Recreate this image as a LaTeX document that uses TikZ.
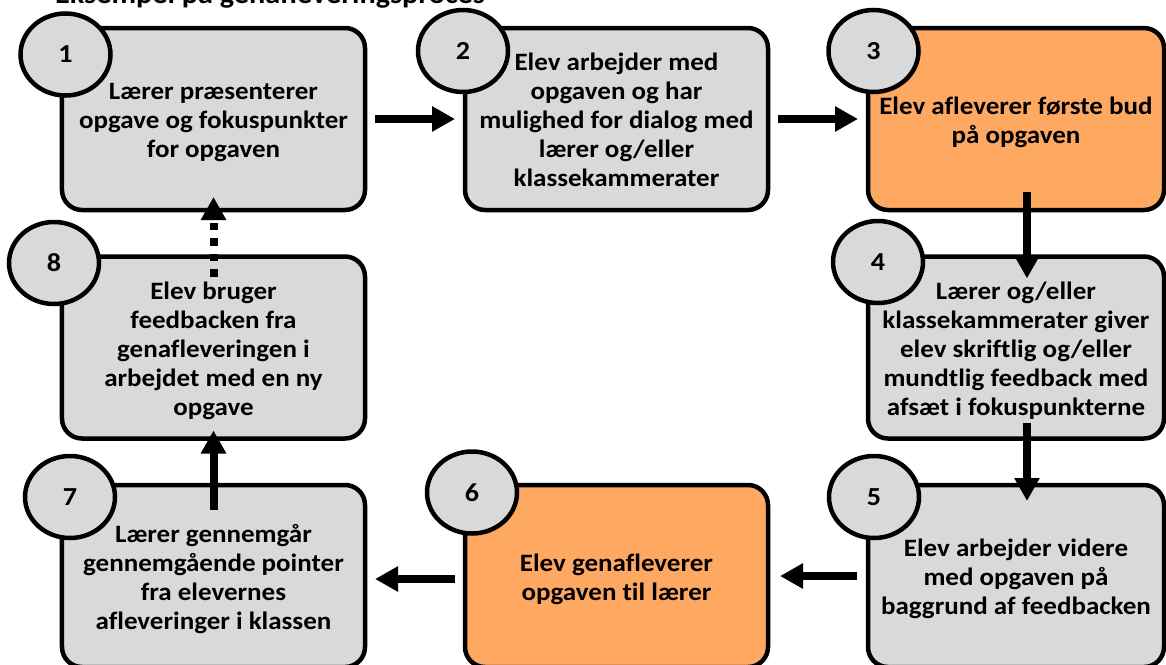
\documentclass[tikz,border=0pt]{standalone}
\usepackage{fontspec}
\setmainfont{Carlito}[FakeStretch=1.08,Ligatures=NoCommon]
\usetikzlibrary{matrix,shapes.geometric,arrows.meta}
\definecolor{boxgray}{HTML}{D9D9D9}
\definecolor{boxorange}{HTML}{FFA862}
\newcommand{\boxtext}[1]{\raisebox{-4pt}[\height][\depth]{\begin{tabular}{@{}c@{}}#1\end{tabular}}}

\begin{document}
\begin{tikzpicture}[x=1pt,y=-1pt,
    stepbox/.style={draw,line width=4.5pt,rounded corners=20pt,fill=boxgray,
        minimum width=303pt,minimum height=182pt,inner sep=0pt,outer sep=0pt,
        font=\fontsize{25}{29}\selectfont\bfseries},
    numcirc/.style={ellipse,draw,line width=4.5pt,fill=boxgray,
        minimum width=90pt,minimum height=82pt,inner sep=0pt,
        font=\fontsize{26}{30}\selectfont\bfseries},
    flowarrow/.style={line width=8pt,-{Triangle[width=24pt,length=23pt]}}
]
    \useasboundingbox (0,0) rectangle (1166,664);
    \clip (0,0) rectangle (1166,664);
    \node[anchor=base west,inner sep=0pt,font=\fontsize{28}{32}\selectfont\bfseries] (title) at (55,3) {Eksempel på genafleveringsproces};
    \matrix(flow)[matrix of nodes,anchor=north west,inner sep=0pt,outer sep=0pt,
        nodes={stepbox,anchor=center},
        column sep=95.5pt,row sep=42pt,
        column 3/.style={nodes={minimum width=296pt}}
    ] at (59.75,25.75) {
        \boxtext{Lærer præsenterer\\opgave og fokuspunkter\\for opgaven}
            & \boxtext{Elev arbejder med\\opgaven og har\\mulighed for dialog med\\lærer og/eller\\klassekammerater}
            & |[fill=boxorange]| \boxtext{Elev afleverer første bud\\på opgaven} \\
        \boxtext{Elev bruger\\feedbacken fra\\genafleveringen i\\arbejdet med en ny\\opgave}
            &
            & \boxtext{Lærer og/eller\\klassekammerater giver\\elev skriftlig og/eller\\mundtlig feedback med\\afsæt i fokuspunkterne} \\
        \boxtext{Lærer gennemgår\\gennemgående pointer\\fra elevernes\\afleveringer i klassen}
            & |[fill=boxorange]| \boxtext{Elev genafleverer\\opgaven til lærer}
            & \boxtext{Elev arbejder videre\\med opgaven på\\baggrund af feedbacken} \\
    };
    \foreach \n/\x/\y in {1/65.5/54.5,2/463/51,3/873.5/51,4/878/262,5/874/497,6/472/492.5,7/70/497,8/54/263}
        \node[numcirc] (num\n) at (\x,\y) {\n};
    \draw[flowarrow] ([xshift=10pt]flow-1-1.east) -- ([xshift=-10pt]flow-1-2.west);
    \draw[flowarrow] ([xshift=10pt]flow-1-2.east) -- ([xshift=-10pt]flow-1-3.west);
    \draw[flowarrow] ([xshift=11pt,yshift=18pt]flow-1-3.south) -- ([xshift=11pt,yshift=-22pt]flow-2-3.north);
    \draw[flowarrow] ([xshift=11pt,yshift=16pt]flow-2-3.south) -- ([xshift=11pt,yshift=-16pt]flow-3-3.north);
    \draw[flowarrow] ([xshift=-11pt]flow-3-3.west) -- ([xshift=12pt]flow-3-2.east);
    \draw[flowarrow] ([xshift=-10pt,yshift=-3pt]flow-3-2.west) -- ([xshift=10pt,yshift=-3pt]flow-3-1.east);
    \draw[flowarrow] ([yshift=-25pt]flow-3-1.north) -- ([yshift=8pt]flow-2-1.south);
    \draw[flowarrow,dash pattern=on 7.5pt off 8pt] ([yshift=-20pt]flow-2-1.north) -- ([yshift=13pt]flow-1-1.south);
\end{tikzpicture}
\end{document}
